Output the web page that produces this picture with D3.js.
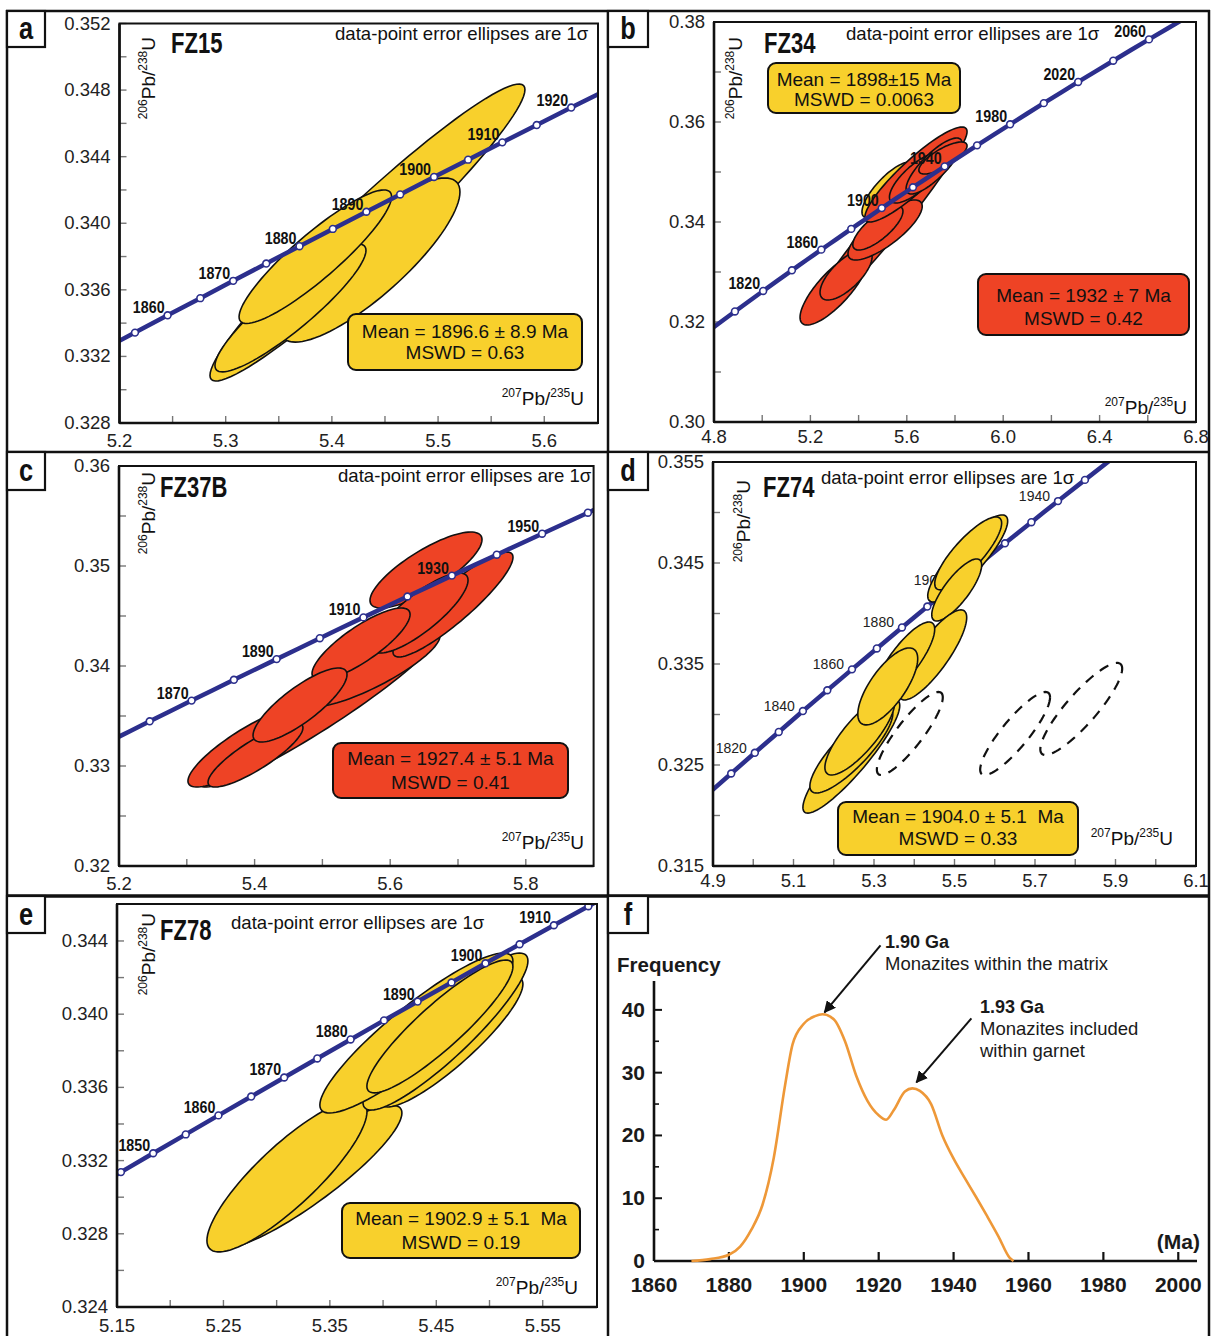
<!DOCTYPE html>
<html><head><meta charset="utf-8">
<script src="https://cdn.jsdelivr.net/npm/d3@7/dist/d3.min.js"></script>
<style>html,body{margin:0;padding:0;background:#fff}svg{display:block}</style>
</head><body>
<svg id="chart" width="1211" height="1336" xmlns="http://www.w3.org/2000/svg"></svg>
<script>
// ================= DATA =================
// Concordia reference points (age in Ma, 207Pb/235U, 206Pb/238U)
const concordiaAges = [1780,1790,1800,1810,1820,1830,1840,1845,1850,1855,1860,1865,1870,1875,1880,1885,1890,1895,1900,1905,1910,1915,1920,1925,1930,1935,1940,1950,1960,1970,1980,1990,2000,2010,2020,2030,2040,2050,2060,2070,2080];
const concordia207 = [4.7721,4.8292,4.8869,4.9452,5.0040,5.0634,5.1234,5.1537,5.1840,5.2146,5.2453,5.2761,5.3071,5.3382,5.3695,5.4009,5.4325,5.4643,5.4962,5.5283,5.5605,5.5929,5.6254,5.6581,5.6910,5.7240,5.7572,5.8241,5.8916,5.9598,6.0287,6.0983,6.1685,6.2395,6.3111,6.3835,6.4566,6.5304,6.6049,6.6802,6.7562];
const concordia206 = [0.31801,0.32006,0.32211,0.32416,0.32621,0.32827,0.33034,0.33137,0.33240,0.33343,0.33447,0.33550,0.33654,0.33758,0.33862,0.33966,0.34069,0.34173,0.34278,0.34382,0.34486,0.34590,0.34695,0.34799,0.34904,0.35009,0.35113,0.35323,0.35533,0.35744,0.35954,0.36165,0.36377,0.36589,0.36801,0.37013,0.37226,0.37439,0.37652,0.37866,0.38080];

// Age markers per sample
const dotAgesFZ15  = [1855,1860,1865,1870,1875,1880,1885,1890,1895,1900,1905,1910,1915,1920];
const labelAgesFZ15 = [1860,1870,1880,1890,1900,1910,1920];
const dotAgesFZ34  = [1800,1820,1840,1860,1880,1900,1920,1940,1960,1980,2000,2020,2040,2060];
const labelAgesFZ34 = [1820,1860,1900,1940,1980,2020,2060];
const dotAgesFZ37B = [1860,1870,1880,1890,1900,1910,1920,1930,1940,1950,1960];
const labelAgesFZ37B = [1870,1890,1910,1930,1950];
const dotAgesFZ74  = [1810,1820,1830,1840,1850,1860,1870,1880,1890,1900,1910,1920,1930,1940,1950];
const labelAgesFZ74 = [1820,1840,1860,1880,1900,1920,1940];
const dotAgesFZ78  = [1845,1850,1855,1860,1865,1870,1875,1880,1885,1890,1895,1900,1905,1910,1915];
const labelAgesFZ78 = [1850,1860,1870,1880,1890,1900,1910];

// Error ellipses: [207/235, 206/238, sigma207, sigma206, rho]
const ellFZ15 = [
  [5.4335,0.33944,0.1483,0.00892,0.962],
  [5.4359,0.33779,0.0847,0.00493,0.83],
  [5.3610,0.33491,0.0711,0.00384,0.90],
  [5.3844,0.33799,0.0718,0.00401,0.90]
];
const ellFZ34yellow = [
  [5.524,0.3464,0.110,0.0056,0.78]
];
const ellFZ34red = [
  [5.5095,0.3392,0.330,0.0190,0.972],
  [5.298,0.3267,0.141,0.0073,0.79],
  [5.348,0.3295,0.108,0.0051,0.70],
  [5.510,0.3384,0.154,0.0060,0.79],
  [5.480,0.3388,0.104,0.0044,0.76],
  [5.638,0.3495,0.212,0.0095,0.90],
  [5.640,0.3488,0.112,0.0050,0.76],
  [5.713,0.3512,0.116,0.0056,0.81],
  [5.750,0.3528,0.100,0.0032,0.76]
];
const ellFZ37B = [
  [5.4965,0.3358,0.177,0.0079,0.95],
  [5.5724,0.33975,0.1010,0.00385,0.84],
  [5.3895,0.3319,0.0878,0.0040,0.85],
  [5.4013,0.3311,0.0700,0.0032,0.85],
  [5.6926,0.34615,0.0885,0.00525,0.90],
  [5.6528,0.3496,0.0826,0.0038,0.80],
  [5.6440,0.3453,0.0708,0.0040,0.82],
  [5.5570,0.3422,0.0723,0.0036,0.82],
  [5.4670,0.3361,0.0693,0.0037,0.82]
];
const ellFZ74 = [
  [5.5328,0.34545,0.0993,0.00431,0.86],
  [5.5340,0.34595,0.0831,0.00361,0.83],
  [5.5055,0.34233,0.0620,0.00307,0.80],
  [5.4459,0.3359,0.0844,0.00446,0.83],
  [5.3764,0.3354,0.0744,0.00376,0.81],
  [5.2437,0.32584,0.1203,0.0056,0.90],
  [5.2437,0.32649,0.1030,0.00426,0.84],
  [5.2648,0.32797,0.0868,0.00396,0.81],
  [5.3342,0.33278,0.0744,0.00381,0.72]
];
const ellFZ74rejected = [
  [5.3890,0.32812,0.0819,0.00411,0.87],
  [5.6506,0.32812,0.0868,0.00411,0.87],
  [5.8149,0.33055,0.1017,0.00456,0.875]
];
const ellFZ78 = [
  [5.3285,0.3311,0.0892,0.00393,0.89],
  [5.3097,0.33116,0.0752,0.00415,0.85],
  [5.4642,0.33848,0.0672,0.00355,0.89],
  [5.4586,0.33905,0.0775,0.00429,0.90],
  [5.4313,0.33897,0.0907,0.00437,0.90],
  [5.4534,0.33933,0.0686,0.00363,0.90]
];

// Mean age texts
const meanFZ15 = ["Mean = 1896.6 ± 8.9 Ma","MSWD = 0.63"];
const meanFZ34yellow = ["Mean = 1898±15 Ma","MSWD = 0.0063"];
const meanFZ34red = ["Mean = 1932 ± 7 Ma","MSWD = 0.42"];
const meanFZ37B = ["Mean = 1927.4 ± 5.1 Ma","MSWD = 0.41"];
const meanFZ74 = ["Mean = 1904.0 ± 5.1\u00a0 Ma","MSWD = 0.33"];
const meanFZ78 = ["Mean = 1902.9 ± 5.1\u00a0 Ma","MSWD = 0.19"];

// Axis ticks
const xTicksFZ15 = [5.2,5.3,5.4,5.5,5.6], xMinorFZ15 = [5.25,5.35,5.45,5.55];
const yTicksFZ15 = [0.328,0.332,0.336,0.340,0.344,0.348,0.352], yMinorFZ15 = [0.330,0.334,0.338,0.342,0.346,0.350];
const xTicksFZ34 = [4.8,5.2,5.6,6.0,6.4,6.8], xMinorFZ34 = [5.0,5.4,5.8,6.2,6.6];
const yTicksFZ34 = [0.30,0.32,0.34,0.36,0.38], yMinorFZ34 = [0.31,0.33,0.35,0.37];
const xTicksFZ37B = [5.2,5.4,5.6,5.8], xMinorFZ37B = [5.3,5.5,5.7];
const yTicksFZ37B = [0.32,0.33,0.34,0.35,0.36], yMinorFZ37B = [0.325,0.335,0.345,0.355];
const xTicksFZ74 = [4.9,5.1,5.3,5.5,5.7,5.9,6.1], xMinorFZ74 = [5.0,5.2,5.4,5.6,5.8,6.0];
const yTicksFZ74 = [0.315,0.325,0.335,0.345,0.355], yMinorFZ74 = [0.320,0.330,0.340,0.350];
const xTicksFZ78 = [5.15,5.25,5.35,5.45,5.55], xMinorFZ78 = [5.20,5.30,5.40,5.50];
const yTicksFZ78 = [0.324,0.328,0.332,0.336,0.340,0.344], yMinorFZ78 = [0.326,0.330,0.334,0.338,0.342];

// Panel f: probability density of ages
const freqAges = [1870,1875,1880,1883,1886,1889,1892,1895,1897,1900,1903,1905,1908,1911,1914,1917,1920,1922,1924,1927,1929,1931,1934,1937,1940,1943,1946,1949,1952,1955,1956];
const freqValues = [0,0.3,1.0,2.3,5,9,16.5,28,34.5,37.8,39,39.3,38.5,35,29.5,25.5,23.2,22.5,24,27,27.5,27.1,25,20,16.3,13.2,10.2,7.1,3.9,0.5,0];
const freqXTicks = [1860,1880,1900,1920,1940,1960,1980,2000];
const freqYTicks = [0,10,20,30,40];
const freqYMinor = [5,15,25,35];
const peakAges = [1905,1929];
const peakValues = [39.3,27.5];

// ================= DRAWING =================
const svg = d3.select('#chart');
const SANS = '"Liberation Sans", Arial, Helvetica, sans-serif';
const BLUE = '#2c2f8d', YEL = '#f8d02c', RED = '#ee4325', INK = '#111';

svg.append('rect').attr('width',1211).attr('height',1336).attr('fill','#fff');
const defs = svg.append('defs');
defs.append('marker').attr('id','arrowHead').attr('viewBox','0 0 10 10')
  .attr('refX',9).attr('refY',5).attr('markerWidth',6).attr('markerHeight',6)
  .attr('orient','auto').append('path').attr('d','M0,0 L10,5 L0,10 z').attr('fill',INK);

// condensed bold text (emulates a narrow bold face)
function condText(parent, x, y, txt, size, sx, anchor){
  return parent.append('text').attr('transform',`translate(${x},${y}) scale(${sx},1)`)
    .attr('text-anchor',anchor||'start').attr('font-family',SANS).attr('font-weight','bold')
    .attr('font-size',size).attr('fill',INK).text(txt);
}
function ellipsePoints(e){
  const [cx,cy,sx,sy,r] = e; const k = Math.sqrt(1-r*r);
  return d3.range(0,96).map(i=>{const t=i/96*2*Math.PI;
    return [cx+sx*Math.cos(t), cy+sy*(r*Math.cos(t)+k*Math.sin(t))];});
}
function supText(sel, parts, main, sup){
  let prev=false;
  parts.forEach(([t,s])=>{
    const ts = sel.append('tspan').text(t).attr('font-size', s?sup:main);
    if(s && !prev) ts.attr('dy', -0.42*main);
    if(!s && prev) ts.attr('dy', 0.42*main);
    prev = s;
  });
}

const panels = [
 {title:'FZ15', xDom:[5.2,5.6506], xR:[119.5,598], yDom:[0.328,0.352], yR:[423,23.5],
  xT:xTicksFZ15, xM:xMinorFZ15, yT:yTicksFZ15, yM:yMinorFZ15, xf:'.1f', yf:'.3f', xLabDy:24,
  dots:dotAgesFZ15, labs:labelAgesFZ15, boldLabs:true, below:false,
  ells:[[ellFZ15,YEL,false]],
  titleXY:[171,53], noteXY:[335,40], xTitleXY:[584,405], yTitleXY:[155,37],
  boxes:[[348,314,234,56,YEL,meanFZ15,338,359]]},
 {title:'FZ34', xDom:[4.8,6.8], xR:[714,1196], yDom:[0.30,0.38], yR:[422,22],
  xT:xTicksFZ34, xM:xMinorFZ34, yT:yTicksFZ34, yM:yMinorFZ34, xf:'.1f', yf:'.2f', xLabDy:21,
  dots:dotAgesFZ34, labs:labelAgesFZ34, boldLabs:true, below:false,
  ells:[[ellFZ34yellow,YEL,false],[ellFZ34red,RED,false]],
  titleXY:[764,53], noteXY:[846,40], xTitleXY:[1187,414], yTitleXY:[742,37],
  boxes:[[768,63,192,50,YEL,meanFZ34yellow,86,106],[978,274,211,61,RED,meanFZ34red,302,325]]},
 {title:'FZ37B', xDom:[5.2,5.9], xR:[119,593.6], yDom:[0.32,0.36], yR:[866,466],
  xT:xTicksFZ37B, xM:xMinorFZ37B, yT:yTicksFZ37B, yM:yMinorFZ37B, xf:'.1f', yf:'.2f', xLabDy:24,
  dots:dotAgesFZ37B, labs:labelAgesFZ37B, boldLabs:true, below:false,
  ells:[[ellFZ37B,RED,false]],
  titleXY:[160,497], noteXY:[338,482], xTitleXY:[584,849], yTitleXY:[155,472],
  boxes:[[333,743,235,55,RED,meanFZ37B,765,789]]},
 {title:'FZ74', xDom:[4.9,6.1], xR:[713,1196], yDom:[0.315,0.355], yR:[866,462],
  xT:xTicksFZ74, xM:xMinorFZ74, yT:yTicksFZ74, yM:yMinorFZ74, xf:'.1f', yf:'.3f', xLabDy:21,
  dots:dotAgesFZ74, labs:labelAgesFZ74, boldLabs:false, below:true,
  ells:[[ellFZ74rejected,'none',true],[ellFZ74,YEL,false]],
  titleXY:[763,497], noteXY:[821,484], xTitleXY:[1173,845], yTitleXY:[750,480],
  boxes:[[838,802,240,53,YEL,meanFZ74,823,845]]},
 {title:'FZ78', xDom:[5.15,5.601], xR:[117,597], yDom:[0.324,0.34602], yR:[1307,904],
  xT:xTicksFZ78, xM:xMinorFZ78, yT:yTicksFZ78, yM:yMinorFZ78, xf:'.2f', yf:'.3f', xLabDy:25,
  dots:dotAgesFZ78, labs:labelAgesFZ78, boldLabs:true, below:false,
  ells:[[ellFZ78,YEL,false]],
  titleXY:[160,940], noteXY:[231,929], xTitleXY:[578,1294], yTitleXY:[155,913],
  boxes:[[342,1203,238,55,YEL,meanFZ78,1225,1249]]}
];

panels.forEach((p,pi)=>{
  const g = svg.append('g');
  const x = d3.scaleLinear().domain(p.xDom).range(p.xR);
  const y = d3.scaleLinear().domain(p.yDom).range(p.yR);
  const [x0,x1] = p.xR, [y0,y1] = p.yR;
  const cid = 'clip'+pi;
  defs.append('clipPath').attr('id',cid).append('rect')
    .attr('x',x0).attr('y',y1).attr('width',x1-x0).attr('height',y0-y1);
  const inX = v => v>=p.xDom[0]-1e-9 && v<=p.xDom[1]+1e-9;
  const inY = v => v>=p.yDom[0]-1e-9 && v<=p.yDom[1]+1e-9;

  // ticks (inward)
  const tg = g.append('g').attr('stroke','#777').attr('stroke-width',1.4);
  p.xT.concat(p.xM).filter(inX).forEach(v=>tg.append('line')
    .attr('x1',x(v)).attr('x2',x(v)).attr('y1',y0).attr('y2',y0-7));
  p.yT.concat(p.yM).filter(inY).forEach(v=>tg.append('line')
    .attr('x1',x0).attr('x2',x0+7).attr('y1',y(v)).attr('y2',y(v)));

  // tick labels
  p.xT.forEach(v=>g.append('text').attr('x',x(v)).attr('y',y0+p.xLabDy)
    .attr('text-anchor','middle').attr('font-family',SANS).attr('font-size',18.5)
    .attr('fill','#222').text(d3.format(p.xf)(v)));
  p.yT.forEach(v=>g.append('text').attr('x',x0-9).attr('y',y(v)+6)
    .attr('text-anchor','end').attr('font-family',SANS).attr('font-size',18.5)
    .attr('fill','#222').text(d3.format(p.yf)(v)));

  const pts = concordiaAges.map((a,i)=>[concordia207[i],concordia206[i]]);
  const line = d3.line().x(d=>x(d[0])).y(d=>y(d[1]));
  const lowLayer = g.append('g').attr('clip-path',`url(#${cid})`);
  const lowLab = g.append('g');
  const ellLayer = g.append('g').attr('clip-path',`url(#${cid})`);
  const topLayer = g.append('g').attr('clip-path',`url(#${cid})`);
  const topLab = g.append('g');

  function drawLabels(layer){
    p.labs.forEach(a=>{
      const i = concordiaAges.indexOf(a);
      const px = x(concordia207[i]), py = y(concordia206[i]);
      if(p.boldLabs){
        condText(layer, px-3, py-2, a, 17, 0.84, 'end');
      } else {
        layer.append('text').attr('x', px-8).attr('y', py)
          .attr('text-anchor','end').attr('font-family',SANS)
          .attr('font-size',14).attr('fill','#222').text(a);
      }
    });
  }
  function drawCurve(layer){
    layer.append('path').attr('d',line(pts)).attr('fill','none')
      .attr('stroke',BLUE).attr('stroke-width',4.5);
    p.dots.forEach(a=>{
      const i = concordiaAges.indexOf(a);
      layer.append('circle').attr('cx',x(concordia207[i])).attr('cy',y(concordia206[i]))
        .attr('r',3.4).attr('fill','#fff').attr('stroke',BLUE).attr('stroke-width',1.6);
    });
  }
  if(p.below){ drawCurve(lowLayer); drawLabels(lowLab); }

  // ellipses
  const eline = d3.line().x(d=>x(d[0])).y(d=>y(d[1])).curve(d3.curveLinearClosed);
  p.ells.forEach(([arr,fill,dashed])=>{
    arr.forEach(e=>{
      ellLayer.append('path').attr('d', eline(ellipsePoints(e)))
        .attr('fill', fill).attr('stroke', INK)
        .attr('stroke-width', dashed?2.2:1.6)
        .attr('stroke-dasharray', dashed?'10,8':null);
    });
  });

  if(!p.below){ drawCurve(topLayer); drawLabels(topLab); }

  // frame
  g.append('rect').attr('x',x0).attr('y',y1).attr('width',x1-x0).attr('height',y0-y1)
    .attr('fill','none').attr('stroke',INK).attr('stroke-width',2);
  g.append('line').attr('x1',x0).attr('x2',x1).attr('y1',y0).attr('y2',y0).attr('stroke',INK).attr('stroke-width',2.6);
  g.append('line').attr('x1',x0).attr('x2',x0).attr('y1',y1).attr('y2',y0).attr('stroke',INK).attr('stroke-width',2.6);

  // mean boxes
  p.boxes.forEach(([bx,by,bw,bh,col,txt,l1,l2])=>{
    g.append('rect').attr('x',bx).attr('y',by).attr('width',bw).attr('height',bh)
      .attr('rx',8).attr('fill',col).attr('stroke',INK).attr('stroke-width',2);
    [l1,l2].forEach((ly,k)=>g.append('text').attr('x',bx+bw/2).attr('y',ly)
      .attr('text-anchor','middle').attr('font-family',SANS).attr('font-size',19)
      .attr('fill',INK).text(txt[k]));
  });

  // titles & notes
  condText(g, p.titleXY[0], p.titleXY[1], p.title, 29, 0.76, 'start');
  g.append('text').attr('x',p.noteXY[0]).attr('y',p.noteXY[1]).attr('font-family',SANS)
    .attr('font-size',18.6).attr('fill',INK).text('data-point error ellipses are 1σ');
  const xt = g.append('text').attr('x',p.xTitleXY[0]).attr('y',p.xTitleXY[1])
    .attr('text-anchor','end').attr('font-family',SANS).attr('fill',INK);
  supText(xt, [['207',true],['Pb/',false],['235',true],['U',false]], 19, 12);
  const yt = g.append('text').attr('transform',`translate(${p.yTitleXY[0]},${p.yTitleXY[1]}) rotate(-90)`)
    .attr('text-anchor','end').attr('font-family',SANS).attr('fill',INK);
  supText(yt, [['206',true],['Pb/',false],['238',true],['U',false]], 19, 12);
});

// ---------- panel f ----------
(function(){
  const g = svg.append('g');
  const x = d3.scaleLinear().domain([1860,2005]).range([654,1197]);
  const y = d3.scaleLinear().domain([0,44.6]).range([1261,981]);
  g.append('line').attr('x1',x(1860)).attr('x2',x(2005)).attr('y1',y(0)).attr('y2',y(0)).attr('stroke',INK).attr('stroke-width',2.6);
  g.append('line').attr('x1',x(1860)).attr('x2',x(1860)).attr('y1',y(0)).attr('y2',y(44.6)).attr('stroke',INK).attr('stroke-width',2.6);
  freqXTicks.filter(v=>v>1860).forEach(v=>g.append('line').attr('x1',x(v)).attr('x2',x(v))
    .attr('y1',y(0)).attr('y2',y(0)-9).attr('stroke',INK).attr('stroke-width',2.2));
  freqXTicks.forEach(v=>g.append('text').attr('x',x(v)).attr('y',y(0)+31).attr('text-anchor','middle')
    .attr('font-family',SANS).attr('font-weight','bold').attr('font-size',21).attr('fill','#1a1a1a').text(v));
  freqYTicks.filter(v=>v>0).forEach(v=>g.append('line').attr('x1',x(1860)).attr('x2',x(1860)+8)
    .attr('y1',y(v)).attr('y2',y(v)).attr('stroke',INK).attr('stroke-width',2));
  freqYMinor.forEach(v=>g.append('line').attr('x1',x(1860)).attr('x2',x(1860)+5)
    .attr('y1',y(v)).attr('y2',y(v)).attr('stroke',INK).attr('stroke-width',1.6));
  freqYTicks.forEach(v=>g.append('text').attr('x',645).attr('y',y(v)+7).attr('text-anchor','end')
    .attr('font-family',SANS).attr('font-weight','bold').attr('font-size',21).attr('fill','#1a1a1a').text(v));
  g.append('text').attr('x',617).attr('y',972).attr('font-family',SANS).attr('font-weight','bold')
    .attr('font-size',20.5).attr('fill','#1a1a1a').text('Frequency');
  g.append('text').attr('x',1200).attr('y',1249).attr('text-anchor','end').attr('font-family',SANS)
    .attr('font-weight','bold').attr('font-size',21).attr('fill','#1a1a1a').text('(Ma)');
  const curve = d3.line().x((d,i)=>x(freqAges[i])).y(d=>y(d)).curve(d3.curveMonotoneX);
  g.append('path').attr('d',curve(freqValues)).attr('fill','none').attr('stroke','#ee9838').attr('stroke-width',2.6);
  const offs = [[56,-67],[55,-64]], ends=[[2,-2],[4,-6]];
  peakAges.forEach((a,i)=>{
    const ex = x(a)+ends[i][0], ey = y(peakValues[i])+ends[i][1];
    g.append('line').attr('x1',ex+offs[i][0]).attr('y1',ey+offs[i][1]).attr('x2',ex).attr('y2',ey)
      .attr('stroke',INK).attr('stroke-width',2).attr('marker-end','url(#arrowHead)');
  });
  const ann = [[885,948,'1.90 Ga',true],[885,970,'Monazites within the matrix',false],
               [980,1013,'1.93 Ga',true],[980,1035,'Monazites included',false],[980,1057,'within garnet',false]];
  ann.forEach(([tx,ty,t,b])=>g.append('text').attr('x',tx).attr('y',ty).attr('font-family',SANS)
    .attr('font-weight',b?'bold':'normal').attr('font-size',b?18:18.5).attr('fill','#1a1a1a').text(t));
})();

// ---------- frame & panel letters ----------
const fr = svg.append('g').attr('stroke',INK).attr('fill','none');
fr.append('line').attr('x1',6).attr('x2',1210).attr('y1',11).attr('y2',11).attr('stroke-width',2.5);
fr.append('line').attr('x1',7).attr('x2',7).attr('y1',10).attr('y2',1336).attr('stroke-width',2.5);
fr.append('line').attr('x1',1209).attr('x2',1209).attr('y1',10).attr('y2',1336).attr('stroke-width',2.5);
fr.append('line').attr('x1',608).attr('x2',608).attr('y1',10).attr('y2',1336).attr('stroke-width',2.5);
fr.append('line').attr('x1',6).attr('x2',1210).attr('y1',452).attr('y2',452).attr('stroke-width',2.5);
fr.append('line').attr('x1',6).attr('x2',1210).attr('y1',896).attr('y2',896).attr('stroke-width',3.5);
const letters = [['a',7,11,38,36],['b',608,11,40,36],['c',7,452,38,38],['d',608,452,40,38],['e',7,896,38,37],['f',608,896,40,37]];
letters.forEach(([t,lx,ly,lw,lh])=>{
  svg.append('rect').attr('x',lx).attr('y',ly).attr('width',lw).attr('height',lh)
    .attr('fill','#fff').attr('stroke',INK).attr('stroke-width',2.2);
  condText(svg, lx+lw/2, ly+lh/2+10, t, 31, 0.82, 'middle');
});
</script>
</body></html>
